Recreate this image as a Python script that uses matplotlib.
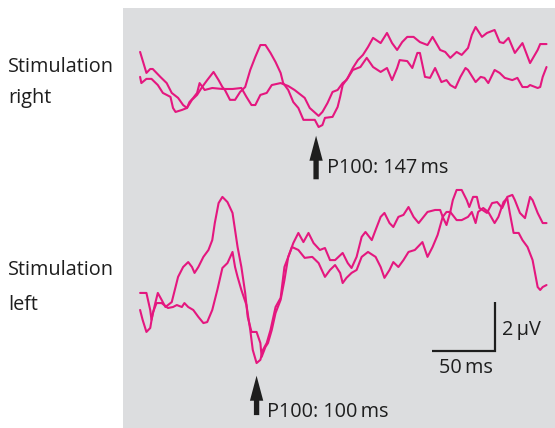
import matplotlib
matplotlib.use("Agg")
import matplotlib.pyplot as plt
from matplotlib.patches import FancyArrowPatch

# ---- recorded VEP traces (time in ms, amplitude in µV) ----
# Stimulation right, two repeated runs
right1_t = [8, 13, 16, 18, 24, 29, 33, 38, 42, 45, 49, 53, 57, 61, 66, 70, 73, 75, 79, 83,
            87, 91, 95, 99, 103, 107, 111, 115, 119, 121, 125, 129, 133, 137, 142, 146, 149,
            152, 154, 160, 164, 166, 168, 172, 176, 180, 184, 188, 192, 198, 203, 207, 211,
            215, 219, 224, 229, 235, 239, 245, 249, 253, 258, 262, 267, 270, 273, 278, 282,
            288, 292, 295, 299, 304, 310, 316, 322, 324, 329]
right1_v = [1.54, 0.69, 0.85, 0.85, 0.53, 0.28, -0.12, -0.32, -0.61, -0.73, -0.40, -0.20, 0.12,
            0.40, 0.73, 0.40, 0.12, 0.0, -0.40, -0.40, -0.08, 0.12, 0.81, 1.34, 1.82, 1.82,
            1.50, 1.13, 0.69, 0.28, 0.0, -0.49, -0.73, -1.21, -1.21, -1.21, -1.50, -1.42,
            -1.13, -1.09, -0.69, -0.28, 0.20, 0.49, 0.89, 1.21, 1.42, 1.74, 2.11, 1.90, 2.31,
            1.90, 1.62, 1.94, 2.15, 2.15, 1.94, 1.82, 2.15, 1.62, 1.54, 1.30, 1.54, 1.42,
            1.70, 2.23, 2.55, 2.15, 2.31, 2.43, 1.94, 1.90, 2.11, 1.50, 1.90, 1.09, 1.62,
            1.86, 1.86]

right2_t = [8, 9, 13, 17, 22, 26, 32, 34, 36, 41, 45, 47, 50, 53, 55, 59, 65, 73, 81, 88, 92,
            96, 99, 103, 108, 112, 119, 125, 130, 138, 142, 149, 152, 156, 160, 164, 168, 171,
            176, 182, 187, 192, 198, 203, 207, 211, 213, 219, 223, 227, 229, 233, 237, 241,
            246, 250, 253, 257, 261, 265, 267, 273, 277, 280, 283, 288, 292, 296, 302, 306,
            310, 314, 316, 322, 324, 326, 329]
right2_v = [0.53, 0.28, 0.45, 0.45, 0.20, -0.12, -0.28, -0.73, -0.89, -0.81, -0.73, -0.49,
            -0.32, -0.12, 0.28, 0.0, 0.08, 0.04, 0.04, 0.08, -0.28, -0.61, -0.61, -0.20,
            -0.12, 0.20, 0.28, 0.16, 0.0, -0.32, -0.73, -1.05, -0.89, -0.53, -0.08, 0.0,
            0.28, 0.40, 0.81, 0.93, 1.30, 0.93, 0.73, 0.89, 0.40, 0.89, 1.21, 1.17, 0.89,
            1.50, 1.50, 0.53, 0.49, 0.89, 0.32, 0.40, 0.20, 0.08, 0.53, 0.89, 0.81, 0.32,
            0.53, 0.49, 0.28, 0.81, 0.69, 0.49, 0.40, 0.49, 0.12, 0.12, 0.20, 0.08, 0.12,
            0.53, 0.93]

# Stimulation left, two repeated runs
left1_t = [8, 13, 16, 17, 20, 22, 25, 28, 30, 33, 36, 38, 42, 46, 49, 51, 54, 58, 62, 65, 67,
           70, 73, 77, 81, 83, 85, 88, 91, 93, 96, 100, 103, 104, 107, 109, 112, 115, 119,
           122, 125, 129, 133, 137, 141, 145, 150, 154, 158, 162, 168, 172, 175, 179, 183,
           186, 191, 194, 198, 201, 205, 208, 212, 216, 220, 224, 228, 235, 241, 245, 247,
           250, 253, 255, 258, 262, 266, 268, 271, 274, 276, 282, 286, 290, 294, 298, 302,
           304, 308, 312, 316, 318, 322, 326, 329]
left1_v = [-0.12, -0.12, -0.81, -1.21, -0.53, -0.12, -0.40, -0.69, -0.61, -0.49, 0.12, 0.53,
           0.93, 1.13, 0.93, 0.69, 0.93, 1.34, 1.62, 2.02, 2.71, 3.52, 3.77, 3.56, 3.12,
           2.43, 1.74, 0.93, -0.12, -1.09, -1.70, -1.70, -2.15, -2.71, -2.31, -2.15, -1.62,
           -0.93, -0.40, 0.40, 1.34, 1.90, 2.31, 1.94, 2.31, 1.90, 1.62, 1.70, 1.21, 1.21,
           1.50, 1.09, 0.89, 1.34, 2.15, 2.35, 2.02, 2.43, 2.96, 3.12, 2.71, 2.55, 2.96,
           3.04, 3.36, 2.96, 2.71, 3.16, 3.24, 3.24, 2.96, 2.63, 3.16, 3.64, 4.05, 4.05,
           3.64, 3.36, 3.77, 3.77, 3.32, 3.12, 3.52, 3.56, 3.32, 3.77, 3.85, 3.64, 3.12,
           2.91, 3.77, 3.64, 3.12, 2.71, 2.71]

left2_t = [8, 10, 13, 16, 18, 21, 25, 30, 34, 37, 41, 43, 46, 50, 54, 58, 61, 65, 69, 73, 77,
           81, 83, 85, 88, 92, 95, 97, 100, 103, 105, 108, 111, 115, 119, 122, 128, 133, 138,
           144, 149, 154, 158, 162, 166, 168, 171, 175, 179, 183, 188, 194, 198, 201, 205,
           208, 212, 216, 220, 225, 231, 235, 239, 243, 247, 250, 253, 258, 262, 267, 270,
           273, 275, 279, 283, 288, 291, 295, 298, 300, 303, 307, 310, 314, 318, 322, 324,
           326, 329]
left2_v = [-0.81, -1.21, -1.70, -1.54, -0.93, -0.53, -0.53, -0.73, -0.69, -0.61, -0.69, -0.53,
           -0.69, -0.81, -1.09, -1.34, -1.30, -0.81, 0.0, 0.89, 1.09, 1.54, 0.93, 0.53, 0.0,
           -0.61, -1.62, -2.43, -2.96, -2.83, -2.43, -2.15, -1.62, -0.69, -0.32, 0.93, 1.74,
           1.62, 1.30, 1.34, 1.09, 0.53, 0.81, 1.01, 0.69, 0.28, 0.49, 0.69, 0.81, 1.34,
           1.54, 1.34, 0.93, 0.49, 0.81, 1.13, 0.93, 1.21, 1.54, 1.62, 1.94, 1.34, 1.74,
           2.23, 2.96, 3.16, 3.16, 2.83, 2.83, 2.96, 3.16, 2.71, 3.16, 3.32, 3.16, 2.71,
           2.96, 3.56, 3.72, 3.12, 2.31, 2.31, 2.02, 1.74, 1.21, 0.12, 0.0, 0.12, 0.20]

# P100 latencies (ms)
p100_right = 147
p100_left = 100

# calibration bar
scale_ms = 50
scale_uv = 2

# ---- styling ----
TRACE = "#e4177f"
PANEL = "#dcdddf"
INK = "#1e1e1e"
FONT = ["Open Sans", "DejaVu Sans"]
FS = 14.3
plt.rcParams["font.family"] = FONT

fig = plt.figure(figsize=(5.55, 4.28), dpi=100)
ax = fig.add_axes([123 / 555, 0.0, 432 / 555, 420 / 428])
ax.set_facecolor(PANEL)
for s in ax.spines.values():
    s.set_visible(False)
ax.set_xticks([])
ax.set_yticks([])
ax.set_xlim(-5.5, 335.7)
ax.set_ylim(-5.59, 11.42)

right_offset = 8.1   # vertical placement of the upper pair (µV)
left_offset = 0.0

lw = 1.5
for tt, vv, off in [(right1_t, right1_v, right_offset), (right2_t, right2_v, right_offset),
                    (left1_t, left1_v, left_offset), (left2_t, left2_v, left_offset)]:
    ax.plot(tt, [v + off for v in vv], color=TRACE, lw=lw,
            solid_joinstyle="round", solid_capstyle="round")


def latency_marker(t, tip, tail, text_y, label):
    arr = FancyArrowPatch((t, tail), (t, tip),
                          arrowstyle="simple,head_length=1.5,head_width=0.8,tail_width=0.32",
                          mutation_scale=12, color=INK, lw=0)
    ax.add_patch(arr)
    ax.text(t + 8.5, text_y, label, fontsize=FS, color=INK, va="baseline", ha="left")


latency_marker(p100_right, right_offset - 1.74, right_offset - 3.73, right_offset - 3.36,
               f"P100: {p100_right}\u2009ms")
latency_marker(p100_left, left_offset - 3.36, left_offset - 5.18, left_offset - 5.14,
               f"P100: {p100_left}\u2009ms")

# calibration bar
bar_t = 288.2
bar_v = -2.47
ax.plot([bar_t - scale_ms, bar_t, bar_t], [bar_v, bar_v, bar_v + scale_uv],
        color=INK, lw=1.6, solid_joinstyle="miter", solid_capstyle="butt")
ax.text(bar_t + 6.0, bar_v + 0.65, f"{scale_uv}\u2009\u03bcV", fontsize=FS, color=INK,
        va="baseline", ha="left")
ax.text(bar_t - scale_ms / 2 + 2, bar_v - 0.89, f"{scale_ms}\u2009ms", fontsize=FS, color=INK,
        va="baseline", ha="center")

# row labels
fig.text(8 / 555, 1 - 71.7 / 428, "Stimulation", fontsize=FS, color=INK, va="baseline")
fig.text(8 / 555, 1 - 103 / 428, "right", fontsize=FS, color=INK, va="baseline")
fig.text(8 / 555, 1 - 275 / 428, "Stimulation", fontsize=FS, color=INK, va="baseline")
fig.text(8 / 555, 1 - 310 / 428, "left", fontsize=FS, color=INK, va="baseline")

fig.savefig("out.png", dpi=100, facecolor="white")
